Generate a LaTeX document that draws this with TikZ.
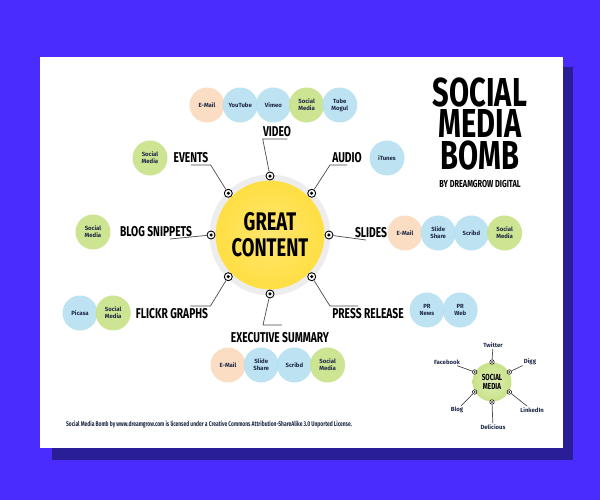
\documentclass[tikz,border=0pt]{standalone}
\usepackage{fontspec}
\setmainfont{Fira Sans}
\newfontfamily\condfont[FakeStretch=0.72]{Fira Sans}
\usetikzlibrary{positioning}
\definecolor{bgblue}{RGB}{74,44,255}
\definecolor{shadowblue}{RGB}{42,30,150}
\definecolor{peach}{RGB}{250,218,188}
\definecolor{skyblue}{RGB}{182,225,241}
\definecolor{limegreen}{RGB}{200,226,135}
\definecolor{sunyellow}{RGB}{255,222,64}
\definecolor{inkblue}{RGB}{30,40,70}
\tikzset{
    bubble/.style={circle, minimum size=0.7cm, inner sep=0pt, align=center, text=inkblue, font=\bfseries\fontsize{3.4}{3.9}\selectfont, fill opacity=0.9, text opacity=1},
    bubble_blue/.style={bubble, fill=skyblue},
    bubble_green/.style={bubble, fill=limegreen},
    bubble_peach/.style={bubble, fill=peach},
    topic/.style={inner sep=0.04cm, font=\condfont\bfseries\fontsize{8.1}{9}\selectfont},
    title_line/.style={inner sep=0pt, font=\condfont\bfseries\fontsize{23}{23}\selectfont},
    hub/.style={circle, draw=black, fill=white, line width=0.5pt, minimum size=0.16cm, inner sep=0pt, path picture={\fill[black] (path picture bounding box.center) circle (0.035cm);}},
    hub_small/.style={hub, minimum size=0.09cm, line width=0.3pt, path picture={\fill[black] (path picture bounding box.center) circle (0.018cm);}},
    mini_label/.style={inner sep=0.02cm, text=inkblue, font=\bfseries\fontsize{3.4}{3.9}\selectfont},
    link/.style={draw=black!70, line width=0.4pt}
}

\begin{document}
\begin{tikzpicture}[x=0.02cm, y=-0.02cm, node distance=0cm and -0.05cm]
    % Page and card
    \fill[bgblue] (0,0) rectangle (600,500);
    \fill[shadowblue] (52,67) rectangle (573,460);
    \fill[white] (40,57) rectangle (563,448);

    % Centre
    \node (content) [circle, minimum size=2.3cm, shade, inner color=sunyellow!75, outer color=sunyellow, draw=black!7, line width=0.12cm, align=center, font=\condfont\bfseries\fontsize{14.5}{14.7}\selectfont] at (270,235) {GREAT\\CONTENT};
    \foreach \name/\ang in {video/90, audio/45, slides/0, press/-45, exec/-90, flickr/-135, blog/180, events/135}
        \node[hub] (d_\name) at ([shift={(\ang:1.18cm)}]content.center) {};

    % Topics
    \node (video) [topic, anchor=south] at (277,139) {VIDEO};
    \node (events) [topic, anchor=south] at (191,165) {EVENTS};
    \node (audio) [topic, anchor=south] at (347,165) {AUDIO};
    \node (blog) [topic, anchor=south] at (156,239) {BLOG SNIPPETS};
    \node (slides) [topic, anchor=south] at (371,240) {SLIDES};
    \node (press) [topic, anchor=north] at (368,306) {PRESS RELEASE};
    \node (flickr) [topic, anchor=north] at (172,306) {FLICKR GRAPHS};
    \node (exec) [topic, anchor=north] at (280,330) {EXECUTIVE SUMMARY};

    % Video row
    \node (v_email) [bubble_peach] at (207,105) {E-Mail};
    \node (v_youtube) [bubble_blue, right=of v_email] {YouTube};
    \node (v_vimeo) [bubble_blue, right=of v_youtube] {Vimeo};
    \node (v_social) [bubble_green, right=of v_vimeo] {Social\\Media};
    \node (v_tube) [bubble_blue, right=of v_social] {Tube\\Mogul};

    % Single bubbles
    \node (e_social) [bubble_green] at (150,158) {Social\\Media};
    \node (a_itunes) [bubble_blue] at (387,158) {iTunes};
    \node (b_social) [bubble_green] at (93,232) {Social\\Media};

    % Slides row
    \node (s_email) [bubble_peach] at (405,233) {E-Mail};
    \node (s_share) [bubble_blue, right=of s_email] {Slide\\Share};
    \node (s_scribd) [bubble_blue, right=of s_share] {Scribd};
    \node (s_social) [bubble_green, right=of s_scribd] {Social\\Media};

    % Press row
    \node (p_news) [bubble_blue] at (427,310) {PR\\News};
    \node (p_web) [bubble_blue, right=of p_news] {PR\\Web};

    % Flickr row
    \node (f_picasa) [bubble_blue] at (80,313) {Picasa};
    \node (f_social) [bubble_green, right=of f_picasa] {Social\\Media};

    % Executive row
    \node (x_email) [bubble_peach] at (228,365) {E-Mail};
    \node (x_share) [bubble_blue, right=of x_email] {Slide\\Share};
    \node (x_scribd) [bubble_blue, right=of x_share] {Scribd};
    \node (x_social) [bubble_green, right=of x_scribd] {Social\\Media};

    % Connections
    \draw[link] (d_video) -- ([xshift=0.04cm]video.south west) -- ([xshift=-0.12cm]video.south east);
    \draw[link] (d_events) -- (events.south east) -- (events.south);
    \draw[link] (d_audio) -- (audio.south west) -- (audio.south);
    \draw[link] (d_blog) -- ([xshift=0.28cm]blog.south);
    \draw[link] (d_slides) -- ([xshift=-0.1cm]slides.south);
    \draw[link] (d_press) -- (press.north west) -- ([xshift=-0.2cm]press.north);
    \draw[link] (d_flickr) -- (flickr.north east) -- ([xshift=-0.4cm]flickr.north east);
    \draw[link] (d_exec) -- ([xshift=-0.34cm, yshift=0.1cm]exec.north) -- ([xshift=0.04cm, yshift=0.1cm]exec.north);

    % Title
    \node (t_social) [title_line, anchor=north] at (480,77) {SOCIAL};
    \node (t_media) [title_line, below=0.05cm of t_social] {MEDIA};
    \node (t_bomb) [title_line, below=0.05cm of t_media] {BOMB};
    \node (byline) [inner sep=0pt, font=\condfont\bfseries\fontsize{5.8}{6}\selectfont] at (480,184) {BY DREAMGROW DIGITAL};

    % Social media badge
    \node (sm) [circle, minimum size=0.78cm, inner sep=0pt, shade, inner color=limegreen!60, outer color=limegreen, align=center, font=\condfont\bfseries\fontsize{5}{5}\selectfont] at (492,382) {SOCIAL\\MEDIA};
    \foreach \name/\ang in {twitter/90, digg/30, linkedin/-30, delicious/-90, blogs/-150, facebook/150}
        \node[hub_small] (sd_\name) at ([shift={(\ang:0.4cm)}]sm.center) {};
    \node (l_twitter) [mini_label] at (493,345) {Twitter};
    \node (l_digg) [mini_label] at (530,362) {Digg};
    \node (l_linkedin) [mini_label] at (532,410) {LinkedIn};
    \node (l_delicious) [mini_label] at (493,427) {Delicious};
    \node (l_blogs) [mini_label] at (457,410) {Blog};
    \node (l_facebook) [mini_label] at (447,362) {Facebook};
    \foreach \name in {twitter, digg, linkedin, delicious, blogs, facebook}
        \draw[link] (sd_\name) -- (l_\name);

    % Footer
    \node (license) [inner sep=0pt, text=inkblue, font=\condfont\bfseries\fontsize{3.9}{4}\selectfont] at (209,424) {Social Media Bomb by www.dreamgrow.com is licensed under a Creative Commons Attribution-ShareAlike 3.0 Unported License.};
\end{tikzpicture}
\end{document}
